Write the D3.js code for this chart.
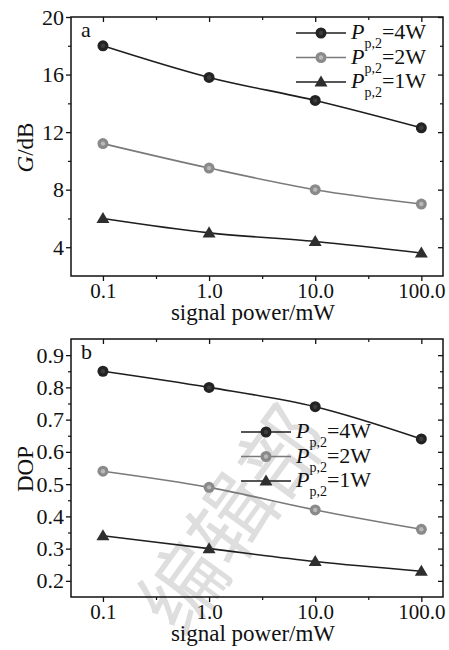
<!DOCTYPE html>
<html>
<head>
<meta charset="utf-8">
<title>G and DOP vs signal power</title>
<script src="https://d3js.org/d3.v7.min.js"></script>
<style>
  body { margin: 0; background: #fff; }
  svg text { font-family: "Liberation Serif", "Times New Roman", serif; fill: #111; }
</style>
</head>
<body>
<div id="chart"></div>
<script>
// data
var signalPower = [0.1, 1, 10, 100];
var xTickLabels = ["0.1", "1.0", "10.0", "100.0"];
var seriesNames = ["4W", "2W", "1W"];

var gain4W = [18.0, 15.8, 14.2, 12.3];
var gain2W = [11.2, 9.5, 8.0, 7.0];
var gain1W = [6.0, 5.0, 4.4, 3.6];

var dop4W = [0.85, 0.80, 0.74, 0.64];
var dop2W = [0.54, 0.49, 0.42, 0.36];
var dop1W = [0.34, 0.30, 0.26, 0.23];

var gainTicks = [4, 8, 12, 16, 20];
var dopTicks = [0.2, 0.3, 0.4, 0.5, 0.6, 0.7, 0.8, 0.9];

var W = 449, H = 650;
var svg = d3.select("#chart").append("svg")
  .attr("width", W).attr("height", H);

// watermark behind the plots
svg.append("text")
  .attr("transform", "translate(228,516) rotate(-54)")
  .attr("text-anchor", "middle")
  .attr("dominant-baseline", "central")
  .style("font-family", "'Noto Sans CJK SC', sans-serif")
  .style("font-size", "84px")
  .style("fill", "#dedede")
  .text("编辑部");

var styles = [
  { line: "#1e1e1e", fill: "#232323", hi: "#444", shape: "circle" },
  { line: "#7a7a7a", fill: "#8a8a8a", hi: "#c4c4c4", shape: "circle" },
  { line: "#1e1e1e", fill: "#2e2e2e", hi: "#2e2e2e", shape: "triangle" }
];

function styleTicks(s, w) {
  s.select(".domain").remove();
  s.selectAll("line").attr("stroke", "#111").attr("stroke-width", w);
}

function drawPanel(opt) {
  var left = 71, right = 443;
  var x = d3.scaleLog().domain([0.05, 160]).range([left, right]);
  var y = d3.scaleLinear().domain(opt.yDomain).range([opt.bottom, opt.top]);
  var g = svg.append("g");

  // frame
  g.append("rect")
    .attr("x", left).attr("y", opt.top)
    .attr("width", right - left).attr("height", opt.bottom - opt.top)
    .attr("fill", "none").attr("stroke", "#111").attr("stroke-width", 1.5);

  var minorX = [Math.sqrt(0.1), Math.sqrt(10), Math.sqrt(1000)];
  var minorY = opt.minorY;

  // bottom axis (ticks out)
  var bx = g.append("g").attr("transform", "translate(0," + opt.bottom + ")")
    .call(d3.axisBottom(x).tickValues(signalPower)
      .tickFormat(function(d, i) { return xTickLabels[i]; })
      .tickSize(5).tickSizeOuter(0).tickPadding(2));
  styleTicks(bx, 1.3);
  bx.selectAll("text").style("font-size", "21px").style("font-family", "'Liberation Serif', serif");
  g.append("g").attr("transform", "translate(0," + opt.bottom + ")")
    .call(d3.axisBottom(x).tickValues(minorX).tickFormat("").tickSize(3).tickSizeOuter(0))
    .call(styleTicks, 1.2);

  // top axis mirror (ticks in)
  g.append("g").attr("transform", "translate(0," + opt.top + ")")
    .call(d3.axisBottom(x).tickValues(signalPower).tickFormat("").tickSize(5).tickSizeOuter(0))
    .call(styleTicks, 1.3);
  g.append("g").attr("transform", "translate(0," + opt.top + ")")
    .call(d3.axisBottom(x).tickValues(minorX).tickFormat("").tickSize(3).tickSizeOuter(0))
    .call(styleTicks, 1.2);

  // left axis (ticks out)
  var ly = g.append("g").attr("transform", "translate(" + left + ",0)")
    .call(d3.axisLeft(y).tickValues(opt.ticks).tickFormat(opt.fmt)
      .tickSize(5).tickSizeOuter(0).tickPadding(2));
  styleTicks(ly, 1.3);
  ly.selectAll("text").style("font-size", "22px").style("font-family", "'Liberation Serif', serif");
  g.append("g").attr("transform", "translate(" + left + ",0)")
    .call(d3.axisLeft(y).tickValues(minorY).tickFormat("").tickSize(3).tickSizeOuter(0))
    .call(styleTicks, 1.2);

  // right axis mirror (ticks in)
  g.append("g").attr("transform", "translate(" + right + ",0)")
    .call(d3.axisRight(y).tickValues(opt.ticks).tickFormat("").tickSize(-5).tickSizeOuter(0))
    .call(styleTicks, 1.3);
  g.append("g").attr("transform", "translate(" + right + ",0)")
    .call(d3.axisRight(y).tickValues(minorY).tickFormat("").tickSize(-3).tickSizeOuter(0))
    .call(styleTicks, 1.2);

  // axis titles
  g.append("text")
    .attr("x", (left + right) / 2 - 4).attr("y", opt.bottom + 44)
    .attr("text-anchor", "middle")
    .style("font-size", "23px")
    .text("signal power/mW");

  var yl = g.append("text")
    .attr("transform", "translate(33," + ((opt.top + opt.bottom) / 2 + 1) + ") rotate(-90)")
    .attr("text-anchor", "middle")
    .style("font-size", "23px");
  if (opt.yItalic) {
    yl.append("tspan").style("font-style", "italic").text(opt.yItalic);
  }
  yl.append("tspan").text(opt.yLabel);

  g.append("text")
    .attr("x", 81).attr("y", opt.top + 20)
    .style("font-size", "22px")
    .text(opt.panel);

  // curves and markers
  var line = d3.line()
    .x(function(d, i) { return x(signalPower[i]); })
    .y(function(d) { return y(d); })
    .curve(d3.curveMonotoneX);

  opt.series.forEach(function(vals, k) {
    var st = styles[k];
    g.append("path").datum(vals)
      .attr("d", line)
      .attr("fill", "none")
      .attr("stroke", st.line)
      .attr("stroke-width", 1.6);
    vals.forEach(function(v, i) {
      drawMarker(g, st, x(signalPower[i]), y(v));
    });
  });

  // legend
  var lg = g.append("g");
  seriesNames.forEach(function(name, k) {
    var st = styles[k];
    var cy = opt.legend.y + k * 24.5;
    lg.append("line")
      .attr("x1", opt.legend.x).attr("x2", opt.legend.x + 50)
      .attr("y1", cy).attr("y2", cy)
      .attr("stroke", st.line).attr("stroke-width", 1.6);
    drawMarker(lg, st, opt.legend.x + 25, cy);
    var t = lg.append("text")
      .attr("x", opt.legend.x + 55).attr("y", cy + 6)
      .style("font-size", "22px");
    t.append("tspan").style("font-style", "italic").text("P");
    t.append("tspan").attr("dy", 9).style("font-size", "14px").text("p,2");
    t.append("tspan").attr("dy", -9).text("=" + name);
  });
}

function drawMarker(g, st, cx, cy) {
  if (st.shape === "circle") {
    g.append("circle")
      .attr("cx", cx).attr("cy", cy).attr("r", 5.5)
      .attr("fill", st.fill);
    g.append("circle")
      .attr("cx", cx).attr("cy", cy).attr("r", 2.2)
      .attr("fill", st.hi).attr("opacity", 0.8);
  } else {
    var s = 6.5;
    g.append("path")
      .attr("d", "M" + cx + "," + (cy - s) + "L" + (cx + s) + "," + (cy + s * 0.7) +
        "L" + (cx - s) + "," + (cy + s * 0.7) + "Z")
      .attr("fill", st.fill);
  }
}

drawPanel({
  top: 17, bottom: 276,
  yDomain: [2, 20],
  ticks: gainTicks, minorY: [6, 10, 14, 18],
  fmt: d3.format("d"),
  yItalic: "G", yLabel: "/dB",
  panel: "a",
  series: [gain4W, gain2W, gain1W],
  legend: { x: 296, y: 33 }
});

drawPanel({
  top: 339, bottom: 597,
  yDomain: [0.15, 0.95],
  ticks: dopTicks, minorY: [0.25, 0.35, 0.45, 0.55, 0.65, 0.75, 0.85],
  fmt: d3.format(".1f"),
  yItalic: null, yLabel: "DOP",
  panel: "b",
  series: [dop4W, dop2W, dop1W],
  legend: { x: 241, y: 432 }
});
</script>
</body>
</html>
